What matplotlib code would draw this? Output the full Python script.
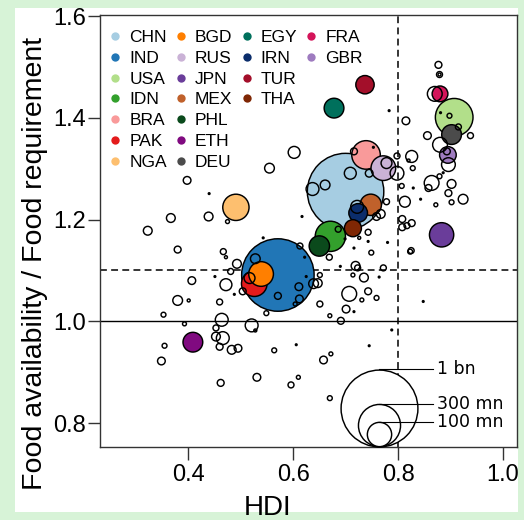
import numpy as np
import matplotlib
matplotlib.use("Agg")
import matplotlib.pyplot as plt
from matplotlib.lines import Line2D
from matplotlib.patches import Rectangle
from matplotlib.transforms import offset_copy

plt.rcParams["font.family"] = ["Liberation Sans", "DejaVu Sans"]

# highlighted countries: HDI, food availability / requirement, population (mn)
countries = ["CHN", "IND", "USA", "IDN", "BRA", "PAK", "NGA",
             "BGD", "RUS", "JPN", "MEX", "PHL", "ETH", "DEU",
             "EGY", "IRN", "TUR", "THA", "FRA", "GBR"]
hdi = [0.700, 0.571, 0.907, 0.671, 0.739, 0.526, 0.491,
       0.539, 0.772, 0.883, 0.748, 0.650, 0.409, 0.902,
       0.678, 0.724, 0.737, 0.714, 0.880, 0.895]
ratio = [1.255, 1.091, 1.401, 1.167, 1.327, 1.074, 1.224,
         1.093, 1.301, 1.170, 1.229, 1.148, 0.959, 1.367,
         1.419, 1.213, 1.465, 1.183, 1.447, 1.327]
pop = [990, 890, 240, 155, 138, 111, 117,
       103, 103, 100, 77, 70, 66, 66,
       66, 59, 57, 49, 42, 47]
colors = ["#a6cde2", "#2176b6", "#b2df8a", "#33a02c", "#f99a9a", "#e41b1c", "#fdbf6f",
          "#ff7f00", "#cab2d6", "#6a3d9a", "#c0612b", "#0b4a1c", "#800a80", "#4b4b4b",
          "#00705c", "#0b2d6b", "#a30f2a", "#7f2704", "#d4145a", "#9e7bbf"]

# all other countries
other_hdi = [0.602, 0.555, 0.398, 0.440, 0.367, 0.439, 0.475, 0.323, 0.380, 0.467,
             0.472, 0.493, 0.481, 0.528, 0.543, 0.517, 0.407, 0.451, 0.472, 0.488,
             0.504, 0.380, 0.401, 0.460, 0.571, 0.353, 0.464, 0.549, 0.393, 0.453,
             0.521, 0.528, 0.453, 0.466, 0.460, 0.483, 0.495, 0.355, 0.349, 0.564,
             0.462, 0.531, 0.596, 0.610, 0.606, 0.658, 0.672, 0.745, 0.670, 0.617,
             0.637, 0.661, 0.709, 0.716, 0.745, 0.778, 0.798, 0.798, 0.826, 0.820,
             0.813, 0.778, 0.767, 0.759, 0.743, 0.726, 0.716, 0.686, 0.699, 0.669,
             0.749, 0.780, 0.808, 0.808, 0.826, 0.817, 0.823, 0.825, 0.743, 0.690,
             0.719, 0.723, 0.714, 0.735, 0.772, 0.764, 0.743, 0.759, 0.731, 0.707,
             0.716, 0.701, 0.691, 0.670, 0.651, 0.647, 0.639, 0.651, 0.625, 0.622,
             0.613, 0.611, 0.612, 0.604, 0.788, 0.848, 0.877, 0.879, 0.879, 0.870,
             0.881, 0.898, 0.915, 0.938, 0.856, 0.880, 0.893, 0.896, 0.886, 0.879,
             0.864, 0.858, 0.902, 0.896, 0.924, 0.902, 0.872, 0.843, 0.829, 0.807,
             0.783, 0.815, 0.828, 0.722, 0.753]
other_ratio = [1.332, 1.301, 1.277, 1.251, 1.203, 1.206, 1.196, 1.178, 1.141, 1.137,
               1.126, 1.113, 1.098, 1.123, 1.164, 1.085, 1.080, 1.088, 1.072, 1.053,
               1.059, 1.041, 1.041, 1.038, 1.050, 1.013, 1.003, 1.016, 0.995, 0.987,
               0.992, 0.982, 0.970, 0.967, 0.950, 0.944, 0.947, 0.952, 0.922, 0.943,
               0.879, 0.890, 0.875, 0.890, 0.954, 0.924, 0.936, 0.952, 0.849, 1.206,
               1.260, 1.268, 1.291, 1.334, 1.291, 1.311, 1.291, 1.325, 1.324, 1.316,
               1.235, 1.235, 1.211, 1.206, 1.175, 1.164, 1.144, 1.181, 1.162, 1.126,
               1.135, 1.155, 1.201, 1.185, 1.193, 1.188, 1.137, 1.139, 1.157, 1.108,
               1.109, 1.105, 1.091, 1.086, 1.105, 1.087, 1.059, 1.046, 1.042, 1.054,
               1.019, 1.024, 1.001, 1.011, 1.034, 1.075, 1.074, 1.091, 1.088, 1.126,
               1.148, 1.068, 1.044, 1.034, 0.983, 1.039, 1.504, 1.485, 1.485, 1.447,
               1.410, 1.404, 1.382, 1.365, 1.365, 1.347, 1.334, 1.308, 1.292, 1.285,
               1.272, 1.262, 1.270, 1.252, 1.240, 1.234, 1.229, 1.240, 1.262, 1.266,
               1.414, 1.394, 1.301, 1.225, 1.342]
other_pop = [24, 16, 10, 0.5, 13, 13, 2.6, 13, 8, 6,
             1.5, 13, 6, 16, 0.5, 20, 10, 0.5, 24, 0.5,
             8, 16, 1.5, 6, 8, 4, 28, 4, 2.6, 6,
             28, 1.5, 13, 28, 8, 13, 10, 4, 10, 4,
             8, 10, 6, 2.6, 0.5, 10, 2.6, 0.5, 4, 0.5,
             28, 16, 24, 8, 10, 20, 32, 6, 24, 1.5,
             20, 6, 13, 10, 6, 1.5, 0.5, 6, 0.5, 6,
             4, 0.5, 8, 8, 8, 6, 4, 6, 0.5, 0.5,
             13, 6, 2.6, 13, 6, 0.5, 8, 4, 2.6, 37,
             0.5, 10, 8, 2.6, 6, 13, 16, 4, 0.5, 0.5,
             6, 10, 10, 2.6, 0.5, 0.5, 8, 6, 1.5, 37,
             0.5, 4, 6, 6, 10, 37, 8, 32, 0.5, 4,
             37, 8, 13, 8, 16, 4, 2.6, 0.5, 0.5, 4,
             0.5, 10, 4, 28, 0.5]

legend_cols = [["CHN", "IND", "USA", "IDN", "BRA", "PAK", "NGA"],
               ["BGD", "RUS", "JPN", "MEX", "PHL", "ETH", "DEU"],
               ["EGY", "IRN", "TUR", "THA"],
               ["FRA", "GBR"]]

size_legend_pop = [1000, 300, 100]
size_legend_labels = ["1 bn", "300 mn", "100 mn"]

S_PER_MN = 3.06   # marker area (pt^2) per million people
EDGE_LW = 1.05


def main():
    fig = plt.figure(figsize=(5.24, 5.20), dpi=100, facecolor="#d7f3d7")
    fig.add_artist(Rectangle((15 / 524, 8 / 520), 503 / 524, 504 / 520,
                             transform=fig.transFigure, facecolor="white",
                             edgecolor="none", zorder=-10))
    ax = fig.add_axes([100 / 524, 73 / 520, 417 / 524, 432 / 520])
    ax.set_xlim(0.232, 1.0267)
    ax.set_ylim(0.753, 1.602)

    ax.axhline(1.0, color="black", lw=1.0, zorder=1)
    ax.axhline(1.1, color="black", lw=1.1, dashes=(4.5, 2.8), zorder=1)
    ax.axvline(0.8, color="black", lw=1.1, dashes=(4.5, 2.8), zorder=1)

    # coloured countries, biggest first so small ones sit on top
    order = np.argsort(pop)[::-1]
    ax.scatter(np.array(hdi)[order], np.array(ratio)[order],
               s=np.array(pop)[order] * S_PER_MN, c=np.array(colors)[order],
               edgecolors="black", linewidths=EDGE_LW, zorder=3)

    ax.scatter(other_hdi, other_ratio, s=np.array(other_pop) * S_PER_MN,
               facecolors="none", edgecolors="black", linewidths=EDGE_LW, zorder=4)

    # size legend, circles standing on the bottom spine
    y0 = ax.get_ylim()[0]
    for p, lab in zip(size_legend_pop, size_legend_labels):
        d = np.sqrt(p * S_PER_MN)
        tc = offset_copy(ax.transData, fig=fig, y=(d + EDGE_LW) / 2, units="points")
        ax.scatter([0.764], [y0], s=p * S_PER_MN, facecolors="white",
                   edgecolors="black", linewidths=EDGE_LW, transform=tc,
                   zorder=5, clip_on=False)
        tt = offset_copy(ax.transData, fig=fig, y=d + EDGE_LW / 2, units="points")
        ax.plot([0.764, 0.867], [y0, y0], color="black", lw=0.8, transform=tt,
                zorder=6, clip_on=False)
        ax.text(0.874, y0, lab, transform=tt, va="center", ha="left",
                fontsize=12.5, family="DejaVu Sans", zorder=6)

    # country legend, 4 columns padded with blanks
    col_of = dict(zip(countries, colors))
    handles, labels = [], []
    for col in legend_cols:
        for i in range(7):
            if i < len(col):
                handles.append(Line2D([], [], ls="none", marker="o", ms=6,
                                      mfc=col_of[col[i]], mec="none"))
                labels.append(col[i])
            else:
                handles.append(Line2D([], [], ls="none"))
                labels.append("")
    ax.legend(handles, labels, ncol=4, loc="upper left",
              bbox_to_anchor=(0.02, 0.966), frameon=False, fontsize=12.5,
              handlelength=0.8, handletextpad=0.4, columnspacing=0.42,
              labelspacing=0.33, borderpad=0, borderaxespad=0)

    ax.set_xticks([0.4, 0.6, 0.8, 1.0])
    ax.set_xticklabels(["0.4", "0.6", "0.8", "1.0"])
    ax.set_yticks([0.8, 1.0, 1.2, 1.4, 1.6])
    ax.set_yticklabels(["0.8", "1.0", "1.2", "1.4", "1.6"])
    ax.tick_params(direction="out", length=9, width=1.0, labelsize=17, color="#333333")
    ax.tick_params(axis="y", pad=1)
    ax.tick_params(axis="x", pad=3)
    for sp in ax.spines.values():
        sp.set_linewidth(1.0)
        sp.set_color("#333333")

    ax.set_xlabel("HDI", fontsize=20)
    ax.set_ylabel("Food availability / Food requirement", fontsize=20.5)
    ax.xaxis.set_label_coords(0.402, -0.11)
    ax.yaxis.set_label_coords(-0.125, 0.426)

    fig.savefig("out.png", dpi=100, facecolor=fig.get_facecolor())
    plt.close(fig)


if __name__ == "__main__":
    main()
